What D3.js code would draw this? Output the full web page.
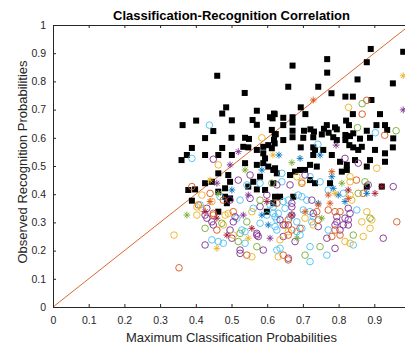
<!DOCTYPE html>
<html>
<head>
<meta charset="utf-8">
<script src="https://cdn.jsdelivr.net/npm/d3@7"></script>
<style>
  body { margin: 0; background: #fff; }
  svg { display: block; font-family: "Liberation Sans", Arial, sans-serif; }
</style>
</head>
<body>
<div id="chart"></div>
<script>
// values (x = max classification prob, y = observed recognition prob)
const xTicks = [0, 0.1, 0.2, 0.3, 0.4, 0.5, 0.6, 0.7, 0.8, 0.9, 1];
const xTickLabels = ['0', '0.1', '0.2', '0.3', '0.4', '0.5', '0.6', '0.7', '0.8', '0.9', ''];
const yTicks = [0, 0.1, 0.2, 0.3, 0.4, 0.5, 0.6, 0.7, 0.8, 0.9, 1];
const yTickLabels = ['0', '0.1', '0.2', '0.3', '0.4', '0.5', '0.6', '0.7', '0.8', '0.9', '1'];
const refLine = [[0, 0], [1, 1]];

const blackSquares = [
  [0.46,0.82],[0.537,0.759],[0.485,0.708],[0.474,0.686],[0.571,0.696],[0.619,0.686],[0.608,0.673],
  [0.363,0.645],[0.401,0.661],[0.501,0.662],[0.559,0.663],[0.571,0.646],[0.449,0.624],[0.426,0.599],
  [0.5,0.6],[0.538,0.6],[0.549,0.596],[0.624,0.613],[0.389,0.564],[0.474,0.564],[0.547,0.566],
  [0.589,0.568],[0.603,0.574],[0.619,0.592],
  [0.89,0.915],[0.768,0.879],[0.879,0.868],[0.671,0.856],[0.768,0.831],[0.853,0.807],[0.952,0.793],
  [0.659,0.781],[0.743,0.781],[0.78,0.758],[0.819,0.746],[0.84,0.746],[0.892,0.734],[0.694,0.708],
  [0.707,0.684],[0.84,0.684],[0.916,0.684],[0.621,0.684],[0.645,0.671],[0.671,0.673],[0.615,0.669],
  [0.671,0.654],[0.645,0.645],[0.821,0.661],[0.829,0.645],[0.906,0.645],[0.767,0.645],[0.79,0.637],
  [0.613,0.628],[0.621,0.612],[0.671,0.625],[0.703,0.625],[0.721,0.63],[0.731,0.622],[0.759,0.632],
  [0.772,0.618],[0.753,0.612],[0.795,0.63],[0.819,0.61],[0.832,0.606],[0.841,0.616],[0.879,0.625],
  [0.888,0.6],[0.93,0.645],[0.936,0.628],[0.645,0.592],[0.671,0.602],[0.701,0.6],[0.729,0.602],
  [0.785,0.602],[0.795,0.592],[0.819,0.592],[0.86,0.597],[0.953,0.598],[0.621,0.58],[0.694,0.566],
  [0.729,0.566],[0.83,0.574],[0.841,0.566],[0.952,0.566],[0.981,0.905],
  [0.375,0.539],[0.36,0.521],[0.426,0.539],[0.463,0.539],[0.501,0.539],[0.533,0.568],[0.571,0.557],
  [0.589,0.545],[0.594,0.527],[0.613,0.563],[0.538,0.51],[0.571,0.504],[0.589,0.51],[0.603,0.498],
  [0.622,0.492],[0.627,0.474],[0.463,0.474],[0.491,0.468],[0.496,0.444],[0.58,0.462],[0.561,0.444],
  [0.426,0.439],[0.445,0.444],[0.398,0.417],[0.379,0.415],[0.463,0.409],[0.482,0.421],[0.547,0.427],
  [0.571,0.417],[0.594,0.415],[0.482,0.391],[0.496,0.385],[0.389,0.377],[0.487,0.368],[0.617,0.368],
  [0.463,0.338],[0.599,0.338],
  [0.734,0.557],[0.757,0.557],[0.729,0.539],[0.781,0.539],[0.855,0.557],[0.865,0.568],[0.902,0.557],
  [0.93,0.545],[0.804,0.515],[0.823,0.504],[0.846,0.521],[0.888,0.521],[0.93,0.515],[0.72,0.504],
  [0.739,0.498],[0.706,0.486],[0.692,0.486],[0.809,0.48],[0.823,0.486],[0.879,0.498],[0.617,0.486],
  [0.678,0.48],[0.664,0.468],[0.72,0.45],[0.734,0.439],[0.776,0.439],[0.617,0.439],[0.879,0.427],
  [0.622,0.391],[0.636,0.391],[0.673,0.391],[0.921,0.427]
];

const circlesBlue = [
  [0.438,0.645],[0.903,0.618],[0.742,0.577],[0.389,0.527],[0.58,0.439],[0.543,0.433],[0.524,0.379],
  [0.412,0.362],[0.561,0.35],[0.617,0.332],[0.58,0.297],[0.627,0.309],[0.445,0.238],[0.463,0.232],
  [0.477,0.226],[0.627,0.202],[0.641,0.474],[0.72,0.462],[0.748,0.444],[0.645,0.374],[0.65,0.35],
  [0.697,0.391],[0.711,0.379],[0.617,0.355],[0.701,0.344],[0.851,0.344],[0.622,0.32],[0.729,0.32],
  [0.622,0.285],[0.697,0.279],[0.683,0.267],[0.771,0.273],[0.72,0.214],[0.636,0.208],[0.767,0.184],
  [0.72,0.161],
  [0.641,0.444],[0.468,0.391],[0.608,0.362],[0.659,0.379],[0.515,0.315],[0.599,0.326],[0.631,0.332],
  [0.529,0.273],[0.538,0.267],[0.627,0.273],[0.538,0.226],[0.771,0.415],[0.813,0.403],[0.841,0.22],
  [0.72,0.338],[0.687,0.397],[0.664,0.32],[0.683,0.302],[0.692,0.255],[0.725,0.302]
];
const circlesPurple = [
  [0.449,0.524],[0.519,0.45],[0.552,0.468],[0.599,0.397],[0.496,0.379],[0.431,0.35],[0.51,0.32],
  [0.58,0.356],[0.445,0.302],[0.505,0.302],[0.496,0.273],[0.571,0.261],[0.426,0.22],[0.524,0.202],
  [0.818,0.527],[0.855,0.51],[0.706,0.468],[0.883,0.433],[0.953,0.427],[0.725,0.379],[0.669,0.355],
  [0.827,0.35],[0.832,0.332],[0.636,0.309],[0.795,0.32],[0.795,0.302],[0.827,0.309],[0.827,0.291],
  [0.645,0.291],[0.743,0.285],[0.813,0.291],[0.645,0.25],[0.678,0.232],[0.767,0.244],[0.925,0.244],
  [0.79,0.208],[0.659,0.173],
  [0.627,0.433],[0.664,0.433],[0.552,0.385],[0.426,0.326],[0.431,0.315],[0.669,0.326],[0.449,0.291],
  [0.571,0.255],[0.501,0.244],[0.575,0.25],[0.524,0.19],[0.589,0.202],[0.804,0.273],[0.79,0.291],
  [0.818,0.315],[0.729,0.332],[0.669,0.368],[0.659,0.291]
];
const circlesOrange = [
  [0.879,0.733],[0.866,0.684],[0.929,0.609],[0.389,0.427],[0.44,0.403],[0.449,0.332],[0.543,0.184],
  [0.353,0.139],[0.697,0.439],[0.85,0.45],[0.869,0.403],[0.739,0.338],[0.79,0.338],[0.804,0.338],
  [0.963,0.302],[0.659,0.309],[0.743,0.309],[0.669,0.273],[0.659,0.255],[0.781,0.25],[0.804,0.255],
  [0.407,0.362],[0.477,0.379],[0.627,0.368],[0.449,0.326],[0.505,0.338],[0.459,0.273],[0.65,0.291],
  [0.645,0.184],[0.659,0.167],[0.79,0.273],[0.771,0.344],[0.692,0.279]
];
const circlesYellow = [
  [0.585,0.6],[0.828,0.708],[0.463,0.504],[0.417,0.397],[0.403,0.355],[0.403,0.326],[0.491,0.332],
  [0.339,0.255],[0.907,0.492],[0.683,0.462],[0.832,0.462],[0.832,0.444],[0.832,0.397],[0.879,0.338],
  [0.893,0.309],[0.865,0.302],[0.706,0.315],[0.729,0.291],[0.869,0.25],[0.832,0.226],[0.631,0.178],
  [0.417,0.35],[0.445,0.374],[0.482,0.326],[0.557,0.338],[0.477,0.291],[0.505,0.255],[0.636,0.238],
  [0.557,0.178],[0.697,0.444],[0.837,0.379],[0.888,0.279],[0.818,0.232],[0.659,0.267]
];
const circlesGreen = [
  [0.866,0.721],[0.853,0.636],[0.961,0.625],[0.613,0.439],[0.473,0.297],[0.543,0.302],[0.524,0.261],
  [0.571,0.214],[0.855,0.403],[0.841,0.255],[0.748,0.214],[0.706,0.184],
  [0.58,0.379],[0.426,0.279],[0.519,0.232],[0.874,0.444],[0.888,0.315]
];

const starsBlue = [
  [0.585,0.486],[0.501,0.415],[0.585,0.326],[0.603,0.291],[0.633,0.539],[0.692,0.527],[0.748,0.539],
  [0.781,0.462],[0.799,0.397],[0.743,0.368],[0.818,0.374],[0.879,0.403],[0.785,0.421]
];
const starsPurple = [
  [0.981,0.699],[0.793,0.574],[0.519,0.551],[0.496,0.504],[0.459,0.439],[0.547,0.397],[0.533,0.326],
  [0.608,0.244]
];
const starsOrange = [
  [0.729,0.734],[0.44,0.374],[0.781,0.48],[0.771,0.397],[0.776,0.368],[0.827,0.385],[0.706,0.338],
  [0.743,0.362]
];
const starsYellow = [
  [0.981,0.82],[0.44,0.45],[0.547,0.244],[0.459,0.208],[0.616,0.539],[0.79,0.403]
];
const starsGreen = [
  [0.538,0.486],[0.463,0.403],[0.375,0.326],[0.669,0.512],[0.809,0.439],[0.753,0.315],[0.683,0.244]
];
const starsRed = [
  [0.426,0.338],[0.459,0.315],[0.599,0.374],[0.557,0.279],[0.487,0.255],[0.827,0.415],[0.902,0.403],
  [0.669,0.326],[0.921,0.427]
];

const width = 405;
const height = 347;
const margins = { top: 25, right: -5, bottom: 40, left: 53 };
const axisColor = '#262626';

const svg = d3
  .select('#chart')
  .append('svg')
  .attr('width', width)
  .attr('height', height);

const xScale = d3.scaleLinear().domain([0, 1]).range([margins.left, width - margins.right]);
const yScale = d3.scaleLinear().domain([0, 1]).range([height - margins.bottom, margins.top]);

// reference diagonal
const lineGenerator = d3.line().x(d => xScale(d[0])).y(d => yScale(d[1]));
svg
  .append('path')
  .attr('d', lineGenerator(refLine))
  .attr('fill', 'none')
  .attr('stroke', '#D95319')
  .attr('stroke-width', 0.9);

const markers = svg.append('g');

markers
  .selectAll('rect')
  .data(blackSquares)
  .enter()
  .append('rect')
  .attr('x', d => xScale(d[0]) - 3)
  .attr('y', d => yScale(d[1]) - 3)
  .attr('width', 6)
  .attr('height', 6)
  .attr('fill', '#000');

const circleGroups = [
  [circlesBlue, '#4DBEEE'],
  [circlesPurple, '#7E2F8E'],
  [circlesOrange, '#D95319'],
  [circlesYellow, '#EDB120'],
  [circlesGreen, '#77AC30']
];
circleGroups.forEach(([pts, color]) => {
  markers
    .append('g')
    .selectAll('circle')
    .data(pts)
    .enter()
    .append('circle')
    .attr('cx', d => xScale(d[0]))
    .attr('cy', d => yScale(d[1]))
    .attr('r', 3.3)
    .attr('fill', 'none')
    .attr('stroke', color)
    .attr('stroke-width', 0.9);
});

// MATLAB style '*' : plus + cross
const starPath = (cx, cy) => {
  const a = 3.4;
  const b = 2.4;
  return `M${cx - a},${cy}H${cx + a}M${cx},${cy - a}V${cy + a}` +
    `M${cx - b},${cy - b}L${cx + b},${cy + b}M${cx - b},${cy + b}L${cx + b},${cy - b}`;
};
const starGroups = [
  [starsBlue, '#0072BD'],
  [starsPurple, '#7E2F8E'],
  [starsOrange, '#D95319'],
  [starsYellow, '#EDB120'],
  [starsGreen, '#77AC30'],
  [starsRed, '#A2142F']
];
starGroups.forEach(([pts, color]) => {
  markers
    .append('g')
    .selectAll('path')
    .data(pts)
    .enter()
    .append('path')
    .attr('d', d => starPath(xScale(d[0]), yScale(d[1])))
    .attr('fill', 'none')
    .attr('stroke', color)
    .attr('stroke-width', 0.9);
});

// axes, MATLAB box style with inward ticks
const xAxis = d3.axisBottom(xScale).tickValues(xTicks).tickSize(-3).tickSizeOuter(0).tickPadding(10)
  .tickFormat((d, i) => xTickLabels[i]);
const yAxis = d3.axisLeft(yScale).tickValues(yTicks).tickSize(-3).tickSizeOuter(0).tickPadding(7)
  .tickFormat((d, i) => yTickLabels[i]);
const xAxisTop = d3.axisTop(xScale).tickValues(xTicks).tickSize(-3).tickSizeOuter(0).tickFormat('');

const styleAxis = g => {
  g.selectAll('path, line').attr('stroke', axisColor);
  g.selectAll('text').attr('fill', axisColor).style('font-size', '10.5px');
};

svg.append('g').attr('transform', `translate(0,${yScale(0)})`).call(xAxis).call(styleAxis);
svg.append('g').attr('transform', `translate(${xScale(0)},0)`).call(yAxis).call(styleAxis);
svg.append('g').attr('transform', `translate(0,${yScale(1)})`).call(xAxisTop).call(styleAxis);

svg
  .append('text')
  .attr('x', 231.5)
  .attr('y', 19.5)
  .attr('text-anchor', 'middle')
  .style('font-size', '13px')
  .style('font-weight', 'bold')
  .attr('fill', '#000')
  .text('Classification-Recognition Correlation');

svg
  .append('text')
  .attr('x', 231.5)
  .attr('y', 342)
  .attr('text-anchor', 'middle')
  .style('font-size', '13px')
  .attr('fill', axisColor)
  .text('Maximum Classification Probabilities');

svg
  .append('text')
  .attr('transform', 'translate(26.5,162) rotate(-90)')
  .attr('text-anchor', 'middle')
  .style('font-size', '13px')
  .attr('fill', axisColor)
  .text('Observed Recognition Probabilities');
</script>
</body>
</html>
